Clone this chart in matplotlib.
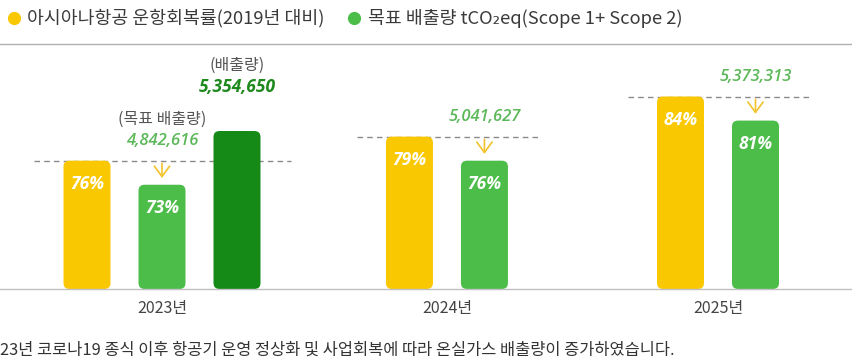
import matplotlib
matplotlib.use('Agg')
import matplotlib.pyplot as plt
import numpy as np
from matplotlib.patches import FancyBboxPatch
from matplotlib.lines import Line2D

# ---------------- data ----------------
years = ['2023년', '2024년', '2025년']
recovery = [76, 79, 84]              # 아시아나항공 운항회복률 (%)
target_pct = [73, 76, 81]            # 목표 배출량 bar (%)
target_emis = ['4,842,616', '5,041,627', '5,373,313']
actual_2023 = 79.7                   # 2023 actual emissions bar height (estimated)
actual_emis_2023 = '5,354,650'
legend_labels = ['아시아나항공 운항회복률(2019년 대비)', '목표 배출량 tCO₂eq(Scope 1+ Scope 2)']
footnote = '23년 코로나19 종식 이후 항공기 운영 정상화 및 사업회복에 따라 온실가스 배출량이 증가하였습니다.'

# ---------------- style ----------------
W, H = 852, 362
YELLOW = '#FAC800'
GREEN = '#4DBD4A'
DGREEN = '#168A17'
ARROW = '#F2C32A'
GTEXT = '#5DB85A'
DGTEXT = '#1E8A1E'
KR = ['Noto Sans CJK KR', 'DejaVu Sans']
NUM = ['Open Sans', 'DejaVu Sans']

fig = plt.figure(figsize=(W / 100, H / 100), dpi=100)
base_px, top_px = 289, 44
ax = fig.add_axes([0, (H - base_px) / H, 1, (base_px - top_px) / H])
ymin = 60
pxx = 278.0                    # px per x unit
pxy = 8.02                     # px per y unit
x0 = -162 / pxx
ax.set_xlim(x0, x0 + W / pxx)
ax.set_ylim(ymin, ymin + (base_px - top_px) / pxy)
ax.axis('off')

bw = 47 / pxx
gap = 75 / pxx
group_x = np.array([0.0, 1.025, 2.0])


def rbar(xc, h, color):
    p = FancyBboxPatch((xc - bw / 2, ymin), bw, h - ymin,
                       boxstyle=f"round,pad=0,rounding_size={6 / pxx}",
                       mutation_aspect=pxx / pxy, fc=color, ec='none', zorder=2)
    ax.add_patch(p)


for i, xc in enumerate(group_x):
    if i == 0:
        xy, xg, xd = xc - gap, xc, xc + gap
    else:
        xy, xg, xd = xc - gap / 2, xc + gap / 2, None
    rbar(xy, recovery[i], YELLOW)
    rbar(xg, target_pct[i], GREEN)
    right = xg + bw / 2
    if xd is not None:
        rbar(xd, actual_2023, DGREEN)
        right = xd + bw / 2
    left = xy - bw / 2
    # dashed reference line
    ax.plot([left - 29 / pxx, right + 30 / pxx], [recovery[i]] * 2, ls=(0, (4, 3)),
            color='#8a8a8a', lw=1.0, zorder=1)
    # arrow
    ax.annotate('', xy=(xg, target_pct[i] + 4 / pxy), xytext=(xg, recovery[i]),
                arrowprops=dict(arrowstyle='->,head_length=0.75,head_width=0.55',
                                color=ARROW, lw=1.2), zorder=3)
    # percentage labels
    ax.text(xy, recovery[i] - 23 / pxy, f'{recovery[i]}%', ha='center', va='center',
            color='white', fontsize=12.5, fontweight='bold', style='italic', family=NUM, zorder=4)
    ax.text(xg, target_pct[i] - 23 / pxy, f'{target_pct[i]}%', ha='center', va='center',
            color='white', fontsize=12.5, fontweight='bold', style='italic', family=NUM, zorder=4)
    # target emission values
    ax.text(xg, recovery[i] + 20 / pxy, target_emis[i], ha='center', va='center',
            color=GTEXT, fontsize=12, fontweight='semibold', style='italic', family=NUM)
    if i == 0:
        ax.text(xg, recovery[i] + 41 / pxy, '(목표 배출량)', ha='center', va='center',
                color='#555555', fontsize=11.5, family=KR)
        ax.text(xd, actual_2023 + 44 / pxy, actual_emis_2023, ha='center', va='center',
                color=DGTEXT, fontsize=12.5, fontweight='bold', style='italic', family=NUM)
        ax.text(xd, actual_2023 + 66 / pxy, '(배출량)', ha='center', va='center',
                color='#555555', fontsize=11.5, family=KR)
    # category label
    gc = (xy + (xd if xd is not None else xg)) / 2
    ax.text(gc, ymin - 19 / pxy, years[i], ha='center', va='center', color='#444444',
            fontsize=11.5, family=KR, clip_on=False)

# horizontal rules
fig.add_artist(Line2D([0, 1], [1 - top_px / H] * 2, color='#b0b0b0', lw=1.0))
fig.add_artist(Line2D([0, 1], [1 - base_px / H] * 2, color='#c0c0c0', lw=1.0))

# legend
for cx, tx, col, lab in [(14, 27, YELLOW, legend_labels[0]), (354, 368, GREEN, legend_labels[1])]:
    fig.add_artist(Line2D([cx / W], [1 - 18 / H], marker='o', markersize=9.5,
                          color=col, markeredgewidth=0))
    fig.text(tx / W, 1 - 18 / H, lab, ha='left', va='center', fontsize=13.2,
             color='#3a3a3a', family=KR)

# footnote
fig.text(0, 1 - 350 / H, footnote, ha='left', va='center', fontsize=11.8,
         color='#333333', family=KR)

fig.savefig('out.png', dpi=100)
